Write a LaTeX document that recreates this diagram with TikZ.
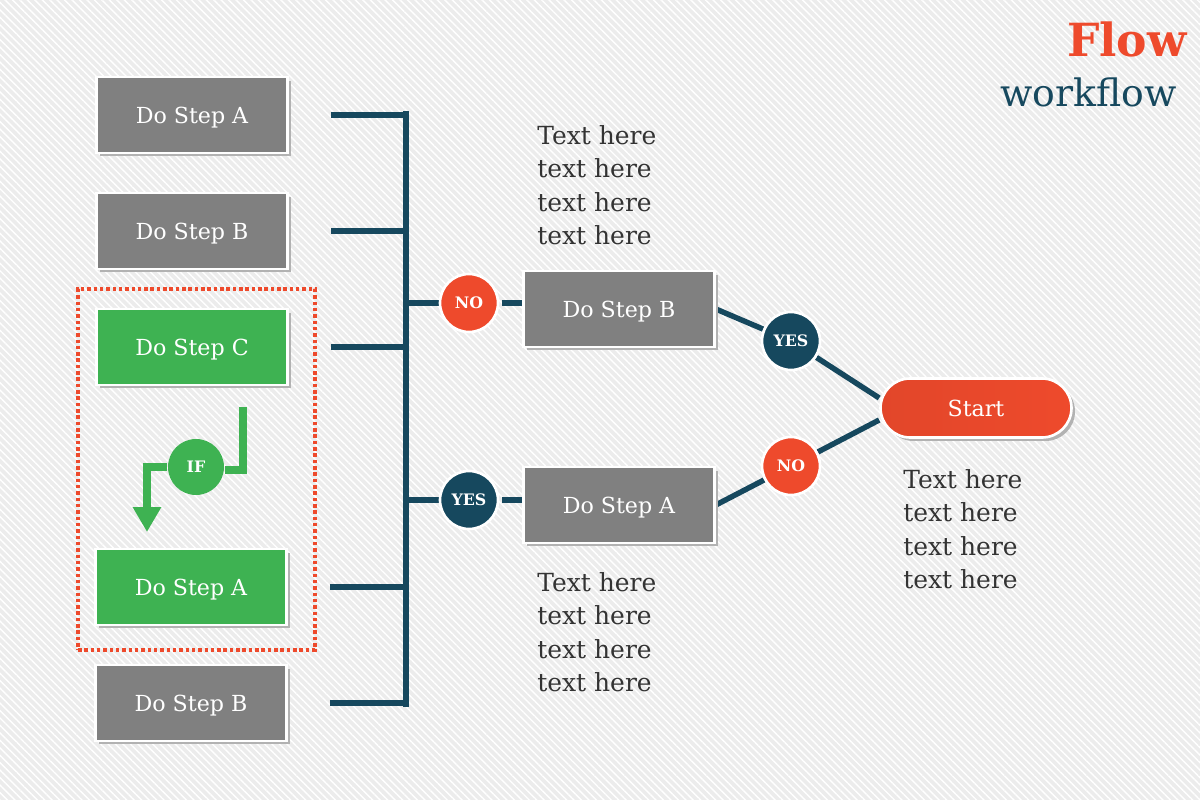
\documentclass[tikz,border=0pt]{standalone}
\usepackage{fontspec}
\setmainfont{DejaVu Serif}
\usetikzlibrary{arrows.meta, positioning, calc, fit, shadows, backgrounds, patterns.meta}

\definecolor{stepgray}{RGB}{128,128,128}
\definecolor{stepgreen}{RGB}{62,178,82}
\definecolor{flowred}{RGB}{238,74,44}
\definecolor{flowteal}{RGB}{22,72,94}
\definecolor{bgpaper}{RGB}{236,236,236}
\definecolor{textgray}{RGB}{51,51,51}

\begin{document}
\begin{tikzpicture}[
    x=0.02cm, y=-0.02cm,
    stepbox/.style={rectangle, draw=white, line width=1.5pt, fill=stepgray, text=white, minimum width=3.82cm, minimum height=1.52cm, text depth=0pt, font=\fontsize{12.6}{14}\selectfont, drop shadow={shadow xshift=0.07cm, shadow yshift=-0.07cm, fill=black!30, opacity=1}},
    greenbox/.style={stepbox, fill=stepgreen},
    answer/.style={circle, draw=white, line width=1.5pt, minimum size=1.16cm, inner sep=0pt, text=white, font=\bfseries\fontsize{9}{10}\selectfont},
    startbox/.style={rectangle, rounded corners=0.59cm, draw=white, line width=1.5pt, left color=flowred!95!black, right color=flowred, text=white, minimum width=3.82cm, minimum height=1.18cm, text depth=0pt, font=\fontsize{12.6}{14}\selectfont, drop shadow={shadow xshift=0.07cm, shadow yshift=-0.07cm, fill=black!30, opacity=1}},
    note/.style={anchor=north west, align=left, inner sep=0pt, text=textgray, font=\fontsize{14.2}{19.1}\selectfont},
    link/.style={draw=flowteal, line width=3.1pt},
    ifline/.style={draw=stepgreen, line width=5pt}
]
\useasboundingbox (0,0) rectangle (1200,800);

% Nodes
\node[stepbox] (sa1) at (192,115) {Do Step A};
\node[stepbox] (sb1) at (192,231) {Do Step B};
\node[greenbox] (sc) at (192,347) {Do Step C};
\node[greenbox] (sa2) at (191,587) {Do Step A};
\node[stepbox] (sb2) at (191,703) {Do Step B};
\node[fit={(78,289) (315,650)}, inner sep=0pt, draw=flowred, line width=2pt, dash pattern=on 2pt off 1.6pt] (group) {};

\node[answer, fill=stepgreen, draw=none, minimum size=1.12cm] (ifc) at (196,467) {IF};
\coordinate (ifin) at (243,407);
\coordinate (ifout) at (147,532);

\coordinate (bus) at (406,0);
\node[answer, fill=flowred] (no1) at (469,303) {NO};
\node[answer, fill=flowteal] (yes1) at (469,500) {YES};
\node[stepbox] (mb) at (619,309) {Do Step B};
\node[stepbox] (ma) at (619,505) {Do Step A};
\node[answer, fill=flowteal] (yes2) at (791,341) {YES};
\node[answer, fill=flowred] (no2) at (791,466) {NO};
\node[startbox] (start) at (976,408) {Start};

\node[note] (note1) at (537,125) {Text here\\text here\\text here\\text here};
\node[note] (note2) at (537,572) {Text here\\text here\\text here\\text here};
\node[note] (note3) at (903,469) {Text here\\text here\\text here\\text here};

\node[anchor=east, inner sep=0pt, text=flowred, font=\bfseries\fontsize{26}{30}\selectfont] (title) at (1187,39) {Flow};
\node[anchor=east, inner sep=0pt, text=flowteal, font=\fontsize{21.5}{25}\selectfont] (subtitle) at (1177,92) {workflow};

% Arrows
\begin{scope}[on background layer]
\fill[bgpaper] (0,0) rectangle (1200,800);
\fill[pattern={Lines[angle=-45, distance=3pt, line width=0.8pt]}, pattern color=white] (0,0) rectangle (1200,800);
\draw[link, shorten <=0.84cm] (sa1.east) -- (sa1.east -| bus);
\draw[link, shorten <=0.84cm] (sb1.east) -- (sb1.east -| bus);
\draw[link, shorten <=0.84cm] (sc.east) -- (sc.east -| bus);
\draw[link, shorten <=0.84cm] (sa2.east) -- (sa2.east -| bus);
\draw[link, shorten <=0.84cm] (sb2.east) -- (sb2.east -| bus);
\draw[link, line cap=rect] ([yshift=0.03cm]sa1.east -| bus) -- ([yshift=-0.03cm]sb2.east -| bus);
\draw[link] (no1 -| bus) -- (no1);
\draw[link, shorten <=0.06cm] (no1) -- (no1 -| mb.west);
\draw[link] (yes1 -| bus) -- (yes1);
\draw[link, shorten <=0.06cm] (yes1) -- (yes1 -| ma.west);
\draw[link] (mb.east) -- (yes2);
\draw[link] (yes2) -- ([yshift=0.2cm]start.west);
\draw[link] (ma.east) -- (no2);
\draw[link] (no2) -- ([yshift=-0.24cm]start.west);
\end{scope}
\draw[ifline] (ifin) |- ([yshift=-0.06cm]ifc.east);
\draw[ifline, -{Triangle[width=0.54cm, length=0.5cm]}] (ifc.west) -| (ifout);

\end{tikzpicture}
\end{document}
